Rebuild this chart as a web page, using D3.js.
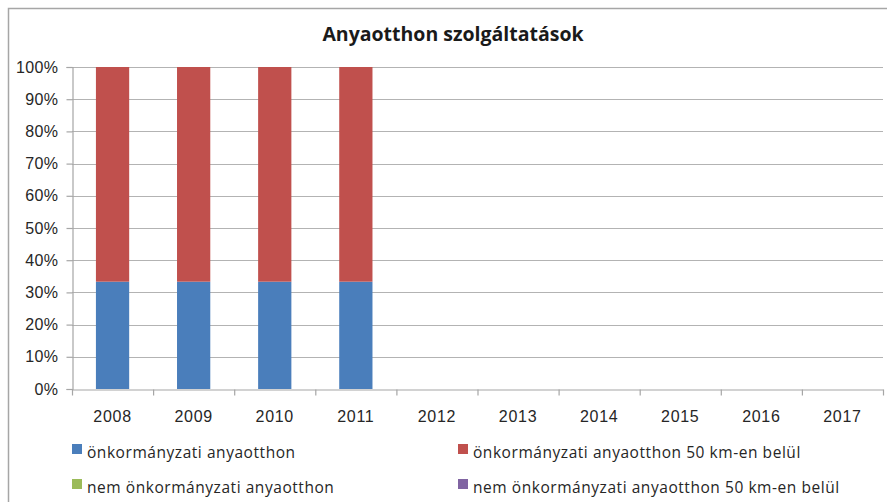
<!DOCTYPE html>
<html>
<head>
<meta charset="utf-8">
<script src="https://cdn.jsdelivr.net/npm/d3@7/dist/d3.min.js"></script>
<style>
  html, body { margin: 0; padding: 0; background: #fff; }
  svg { display: block; font-family: "Open Sans", "Liberation Sans", sans-serif; }
</style>
</head>
<body>
<svg id="chart" width="887" height="502"></svg>
<script>
// Share of maternal home services by type, per year (percent)
const years = ["2008", "2009", "2010", "2011", "2012", "2013", "2014", "2015", "2016", "2017"];
const seriesNames = [
  "önkormányzati anyaotthon",
  "önkormányzati anyaotthon 50 km-en belül",
  "nem önkormányzati anyaotthon",
  "nem önkormányzati anyaotthon 50 km-en belül"
];
const seriesColors = ["#4a7ebb", "#c0504d", "#9bbb59", "#8064a2"];
const onkormanyzati      = [33.33, 33.33, 33.33, 33.33, 0, 0, 0, 0, 0, 0];
const onkormanyzati50km  = [66.67, 66.67, 66.67, 66.67, 0, 0, 0, 0, 0, 0];
const nemOnkormanyzati   = [0, 0, 0, 0, 0, 0, 0, 0, 0, 0];
const nemOnkormanyzati50 = [0, 0, 0, 0, 0, 0, 0, 0, 0, 0];
const yTicks = [0, 10, 20, 30, 40, 50, 60, 70, 80, 90, 100];

const rows = years.map((y, i) => ({
  year: y,
  s0: onkormanyzati[i],
  s1: onkormanyzati50km[i],
  s2: nemOnkormanyzati[i],
  s3: nemOnkormanyzati50[i]
}));
const keys = ["s0", "s1", "s2", "s3"];

const svg = d3.select("#chart");
const plot = { left: 72, right: 883, top: 67, bottom: 389 };

// chart frame (left and top edges)
svg.append("path")
  .attr("d", "M8.5,502 V8.5 H887")
  .attr("fill", "none")
  .attr("stroke", "#a6a6a6")
  .attr("stroke-width", 1.5);

svg.append("text")
  .attr("x", 453).attr("y", 41)
  .attr("text-anchor", "middle")
  .attr("font-size", 19.5).attr("font-weight", "bold")
  .attr("fill", "#1a1a1a")
  .text("Anyaotthon szolgáltatások");

const x = d3.scaleBand().domain(years).range([plot.left, plot.right]).paddingInner(0).paddingOuter(0);
const y = d3.scaleLinear().domain([0, 100]).range([plot.bottom, plot.top]);

// horizontal gridlines
svg.append("g").selectAll("line").data(yTicks.filter(t => t > 0)).join("line")
  .attr("x1", plot.left).attr("x2", plot.right)
  .attr("y1", d => Math.round(y(d)) + 0.5).attr("y2", d => Math.round(y(d)) + 0.5)
  .attr("stroke", "#b3b3b3").attr("stroke-width", 1.2);

// stacked bars
const stack = d3.stack().keys(keys)(rows);
const barW = x.bandwidth() * 0.41;
svg.append("g").selectAll("g").data(stack).join("g")
  .attr("fill", (d, i) => seriesColors[i])
  .selectAll("rect").data(d => d).join("rect")
  .attr("x", d => x(d.data.year) + (x.bandwidth() - barW) / 2)
  .attr("width", barW)
  .attr("y", d => y(d[1]))
  .attr("height", d => y(d[0]) - y(d[1]));

// y axis
const yAxis = d3.axisLeft(y).tickValues(yTicks).tickFormat(d => d + "%").tickSize(6).tickPadding(8);
const gy = svg.append("g").attr("transform", `translate(${plot.left + 0.5},0)`).call(yAxis);
gy.select(".domain").attr("stroke", "#a6a6a6").attr("stroke-width", 1.2);
gy.selectAll(".tick line").attr("stroke", "#a6a6a6").attr("stroke-width", 1.2);
gy.selectAll(".tick text").attr("font-size", 16).attr("fill", "#262626")
  .attr("letter-spacing", 0.4);

// x axis with ticks at category boundaries
const xAxis = d3.axisBottom(x).tickSize(0).tickPadding(21);
const gx = svg.append("g").attr("transform", `translate(0,${plot.bottom + 0.5})`).call(xAxis);
gx.select(".domain").attr("stroke", "#a6a6a6").attr("stroke-width", 1.2);
gx.selectAll(".tick text").attr("font-size", 16).attr("fill", "#262626")
  .attr("letter-spacing", 0.7);
gx.selectAll("line.bound").data(years.concat(["end"])).join("line")
  .attr("class", "bound")
  .attr("x1", (d, i) => (i < years.length ? x(d) : x.range()[1]) + 0.5)
  .attr("x2", (d, i) => (i < years.length ? x(d) : x.range()[1]) + 0.5)
  .attr("y1", 0).attr("y2", 6)
  .attr("stroke", "#a6a6a6").attr("stroke-width", 1.2);

// legend, two columns
const legendPos = [[72, 453], [458, 453], [72, 488], [458, 488]];
const lg = svg.append("g").selectAll("g").data(seriesNames).join("g")
  .attr("transform", (d, i) => `translate(${legendPos[i][0]},${legendPos[i][1]})`);
lg.append("rect").attr("x", 0).attr("y", -9).attr("width", 10).attr("height", 10)
  .attr("fill", (d, i) => seriesColors[i]);
lg.append("text").attr("x", 15).attr("y", 0).attr("dy", "0.3em")
  .attr("font-size", 15.5).attr("fill", "#262626").attr("letter-spacing", 0.55)
  .text(d => d);
</script>
</body>
</html>
